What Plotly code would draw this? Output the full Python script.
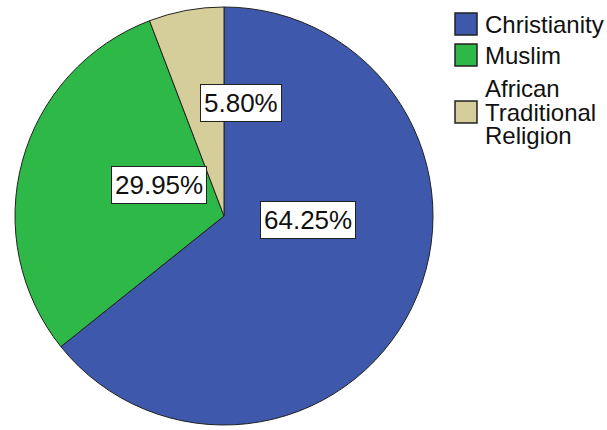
import math
import plotly.graph_objects as go

labels = ["Christianity", "Muslim", "African Traditional Religion"]
legend_text = ["Christianity", "Muslim", "African<br>Traditional<br>Religion"]
values = [64.25, 29.95, 5.80]
text_labels = ["64.25%", "29.95%", "5.80%"]
colors = ["#3E58AC", "#2EB848", "#D5CE9B"]
label_radius = [0.40, 0.56, 0.64]
label_angle_shift = [-23, 0, 0]

W, H = 607, 430
dom_x = [12 / W, 436 / W]
dom_y = [5 / H, 423 / H]

fig = go.Figure()
fig.add_trace(go.Pie(
    labels=labels, values=values, sort=False, direction="clockwise", rotation=0,
    marker=dict(colors=colors, line=dict(color="#222222", width=1)),
    textinfo="none", hoverinfo="label+percent",
    domain=dict(x=dom_x, y=dom_y), showlegend=False,
))

# label positions from data angles
cx = (dom_x[0] + dom_x[1]) / 2 * W
cy = (dom_y[0] + dom_y[1]) / 2 * H
R = min((dom_x[1] - dom_x[0]) * W, (dom_y[1] - dom_y[0]) * H) / 2
total = sum(values)
cum = 0
for v, t, rf, sh in zip(values, text_labels, label_radius, label_angle_shift):
    mid = (cum + v / 2) / total * 2 * math.pi + math.radians(sh)
    cum += v
    px = cx + rf * R * math.sin(mid)
    py = cy + rf * R * math.cos(mid)
    fig.add_annotation(
        x=px / W, y=py / H, xref="paper", yref="paper", text=t, showarrow=False,
        font=dict(family="Liberation Sans, Arial", size=26, color="#111111"),
        bgcolor="white", bordercolor="#222222", borderwidth=1, borderpad=3,
    )

# legend (drawn as boxes + text)
legend_rows_y = [24, 55, 112]  # pixel centres from top
line_gap = 24
for name, col, yc in zip(legend_text, colors, legend_rows_y):
    fig.add_shape(type="rect", xref="paper", yref="paper",
                  x0=455 / W, x1=477 / W, y0=1 - (yc - 11) / H, y1=1 - (yc + 11) / H,
                  fillcolor=col, line=dict(color="#222222", width=1.5))
    lines = name.split("<br>")
    n = len(lines)
    for i, ln in enumerate(lines):
        ly = yc + (i - (n - 1) / 2) * line_gap
        fig.add_annotation(x=483 / W, y=1 - ly / H, xref="paper", yref="paper",
                           xanchor="left", yanchor="middle", align="left", showarrow=False,
                           text=ln,
                           font=dict(family="Liberation Sans, Arial", size=24, color="#111111"))

fig.update_layout(
    width=W, height=H, margin=dict(l=0, r=0, t=0, b=0),
    paper_bgcolor="white", plot_bgcolor="white",
    showlegend=False,
)
fig.write_html("out.html")
